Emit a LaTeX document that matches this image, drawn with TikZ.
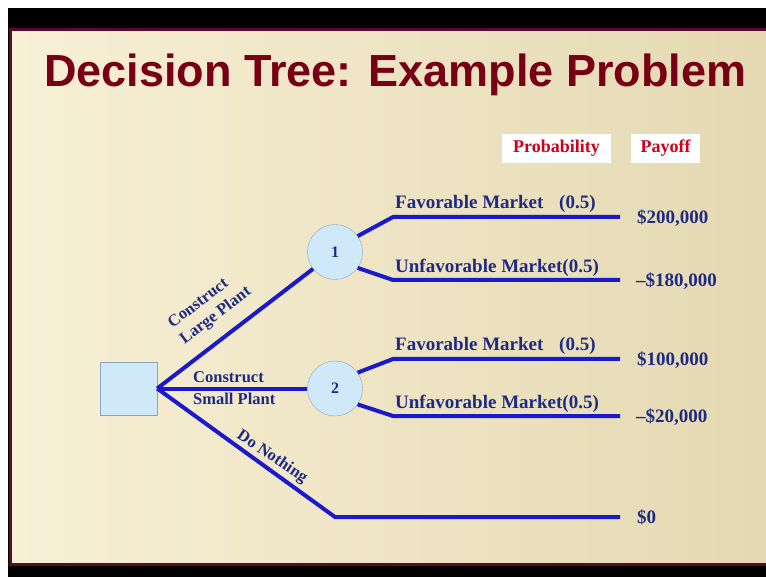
\documentclass[tikz,border=0pt]{standalone}
\usepackage{fontspec}
\setmainfont{Liberation Serif}
\newfontfamily\titlefont{Liberation Sans}
\definecolor{branchblue}{HTML}{1A1ACC}
\definecolor{labelblue}{HTML}{1F2A82}
\definecolor{titlered}{HTML}{780014}
\definecolor{headred}{HTML}{D0001A}
\definecolor{nodefill}{HTML}{CFE9F9}
\definecolor{nodeline}{HTML}{8AA4BE}
\definecolor{slideborder}{HTML}{5A0A2A}
\definecolor{slideleft}{HTML}{F8F0D6}
\definecolor{slideright}{HTML}{E4D9B2}
\tikzset{
  branch/.style={draw=branchblue, line width=4pt},
  decision/.style={rectangle, draw=nodeline, fill=nodefill, minimum width=57pt, minimum height=53pt},
  chance/.style={circle, draw=nodeline, fill=nodefill, minimum size=55pt, inner sep=0pt,
    text=labelblue, font=\bfseries\fontsize{16}{16}\selectfont},
  lbl/.style={text=labelblue, inner sep=0pt, anchor=base west, font=\bfseries\fontsize{19}{19}\selectfont},
  optlbl/.style={text=labelblue, inner sep=0pt, font=\bfseries\fontsize{16.5}{20}\selectfont},
  header/.style={fill=white, text=headred, minimum height=29pt, inner sep=0pt,
    font=\bfseries\fontsize{18}{18}\selectfont}
}
\begin{document}
\begin{tikzpicture}[x=1pt, y=-1pt]
  % Frame and slide
  \useasboundingbox (0,0) rectangle (766,577);
  \fill[white] (0,0) rectangle (766,577);
  \fill[black] (8,8) rectangle (766,577);
  \shade[left color=slideleft, right color=slideright] (11,30) rectangle (766,564);
  \draw[slideborder, line width=3pt] (10,29.5) rectangle (767,564);
  % Title
  \node[anchor=base west, inner sep=0pt, text=titlered, font=\titlefont\bfseries\fontsize{45}{45}\selectfont]
    (title) at (44,87) {Decision Tree: Example Problem};
  % Column headers
  \node[header, minimum width=109pt] (prob) at (556.5,148.5) {Probability};
  \node[header, minimum width=69pt] (pay) at (665.5,148.5) {Payoff};
  % Nodes
  \node[decision] (dec) at (128.5,388.5) {};
  \node[chance] (c1) at (335,252) {1};
  \node[chance] (c2) at (335,388.5) {2};
  % Branch points
  \coordinate (f1) at (393,217); \coordinate (f1end) at (620,217);
  \coordinate (u1) at (393,280); \coordinate (u1end) at (620,280);
  \coordinate (f2) at (393,359); \coordinate (f2end) at (620,359);
  \coordinate (u2) at (393,416); \coordinate (u2end) at (620,416);
  \coordinate (dn) at (335,517); \coordinate (dnend) at (620,517);
  % Decision branches
  \draw[branch] (dec.east) -- (c1);
  \draw[branch] (dec.east) -- (c2);
  \draw[branch, line join=round] (dec.east) -- (dn) -- (dnend);
  % Chance branches
  \draw[branch, line join=round] (c1.35) -- (f1) -- (f1end);
  \draw[branch, line join=round] (c1.-35) -- (u1) -- (u1end);
  \draw[branch, line join=round] (c2.35) -- (f2) -- (f2end);
  \draw[branch, line join=round] (c2.-35) -- (u2) -- (u2end);
  % Decision labels
  \node[optlbl, rotate=37, align=left] (large) at (210,308) {Construct\\Large Plant};
  \node[optlbl, anchor=base west] (small1) at (193,382) {Construct};
  \node[optlbl, anchor=base west] (small2) at (193,404) {Small Plant};
  \node[optlbl, rotate=-34] (nothing) at (272,457) {Do Nothing};
  % Outcome labels
  \node[lbl] (fav1) at (395,209) {Favorable Market\hspace{11pt} (0.5)};
  \node[lbl] (unf1) at (395,273) {Unfavorable Market(0.5)};
  \node[lbl] (fav2) at (395,351) {Favorable Market\hspace{11pt} (0.5)};
  \node[lbl] (unf2) at (395,408) {Unfavorable Market(0.5)};
  % Payoffs
  \node[lbl] (p1) at (637,224) {\$200,000};
  \node[lbl] (p2) at (636,287) {--\$180,000};
  \node[lbl] (p3) at (637,366) {\$100,000};
  \node[lbl] (p4) at (636,422) {--\$20,000};
  \node[lbl] (p5) at (637,523) {\$0};
\end{tikzpicture}
\end{document}
